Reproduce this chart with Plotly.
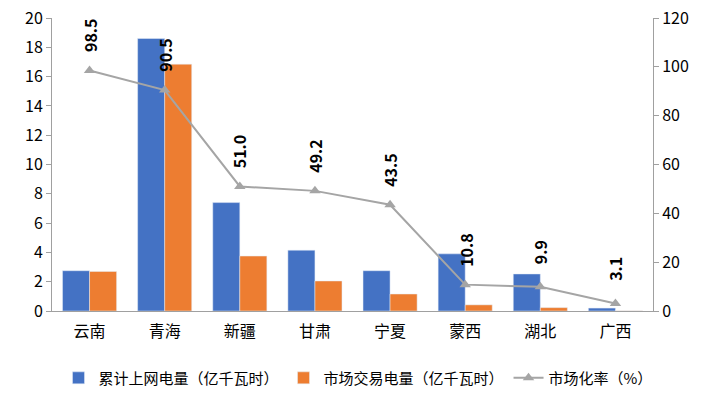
import plotly.graph_objects as go

categories = ["云南", "青海", "新疆", "甘肃", "宁夏", "蒙西", "湖北", "广西"]
grid_power = [2.75, 18.6, 7.4, 4.15, 2.75, 3.9, 2.53, 0.2]
market_power = [2.7, 16.85, 3.75, 2.05, 1.16, 0.42, 0.23, 0.01]
market_rate = [98.5, 90.5, 51.0, 49.2, 43.5, 10.8, 9.9, 3.1]
rate_labels = ["98.5", "90.5", "51.0", "49.2", "43.5", "10.8", "9.9", "3.1"]

FONT = "Noto Sans CJK SC"

fig = go.Figure()
fig.add_trace(go.Bar(x=categories, y=grid_power, name="累计上网电量（亿千瓦时）",
                     marker_color="#4472C4"))
fig.add_trace(go.Bar(x=categories, y=market_power, name="市场交易电量（亿千瓦时）",
                     marker_color="#ED7D31"))
fig.add_trace(go.Scatter(x=categories, y=market_rate, name="市场化率（%）", yaxis="y2",
                         mode="lines+markers",
                         line=dict(color="#A5A5A5", width=2),
                         marker=dict(symbol="triangle-up", size=10, color="#A5A5A5")))

for c, v, t in zip(categories, market_rate, rate_labels):
    fig.add_annotation(x=c, y=v, yref="y2", text=f"<b>{t}</b>", textangle=-90,
                       showarrow=False, yshift=35, xshift=0,
                       font=dict(family=FONT, size=16, color="#000000"))

fig.update_layout(
    width=716, height=398,
    margin=dict(l=52, r=63, t=18, b=87, autoexpand=False),
    paper_bgcolor="white", plot_bgcolor="white",
    barmode="group", bargap=0.28, bargroupgap=0,
    font=dict(family=FONT, size=15, color="#000000"),
    showlegend=True,
    legend=dict(orientation="h", xref="container", x=0.5, xanchor="center",
                yref="container", y=0.05, yanchor="middle",
                font=dict(family=FONT, size=15), itemwidth=30, tracegroupgap=0),
    xaxis=dict(showgrid=False, showline=True, linecolor="#A0A0A0", linewidth=1,
               ticks="", ticklabelstandoff=6, tickfont=dict(family=FONT, size=16),
               automargin=False),
    yaxis=dict(range=[0, 20], dtick=2, showgrid=False, showline=True, linecolor="#A0A0A0",
               ticks="outside", ticklen=5, tickcolor="#A0A0A0", zeroline=False,
               tickfont=dict(family=FONT, size=16), automargin=False),
    yaxis2=dict(range=[0, 120], dtick=20, overlaying="y", side="right", showgrid=False,
                showline=True, linecolor="#A0A0A0", ticks="outside", ticklen=5,
                tickcolor="#A0A0A0", zeroline=False, tickfont=dict(family=FONT, size=16),
                automargin=False),
)

fig.write_html("out.html", config={"displayModeBar": False},
               post_script="document.body.style.margin='0';")
